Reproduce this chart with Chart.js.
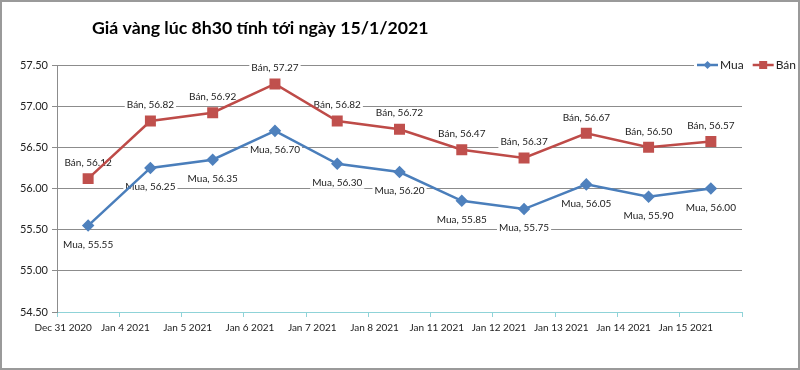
<!DOCTYPE html>
<html>
<head>
<meta charset="utf-8">
<script src="https://cdn.jsdelivr.net/npm/chart.js@4.4.1/dist/chart.umd.min.js"></script>
<style>
    html, body { margin: 0; padding: 0; background: #fff; }
    #wrap { width: 800px; height: 370px; }
</style>
</head>
<body>
<div id="wrap"><canvas id="goldChart" width="800" height="370"></canvas></div>
<script>
// Giá vàng (triệu đồng/lượng) lúc 8h30
const chartTitle = 'Giá vàng lúc 8h30 tính tới ngày 15/1/2021';
const days = ['Dec 31 2020', 'Jan 4 2021', 'Jan 5 2021', 'Jan 6 2021', 'Jan 7 2021', 'Jan 8 2021',
    'Jan 11 2021', 'Jan 12 2021', 'Jan 13 2021', 'Jan 14 2021', 'Jan 15 2021'];
const muaValues = [55.55, 56.25, 56.35, 56.70, 56.30, 56.20, 55.85, 55.75, 56.05, 55.90, 56.00];
const banValues = [56.12, 56.82, 56.92, 57.27, 56.82, 56.72, 56.47, 56.37, 56.67, 56.50, 56.57];
const yTicks = [54.5, 55.0, 55.5, 56.0, 56.5, 57.0, 57.5];

const FONT = 'Lato, "Open Sans", sans-serif';
const BLUE = '#4A7EBB';
const RED = '#BE4B48';

// Frame, title and custom legend
const decorPlugin = {
    id: 'decor',
    beforeDraw(chart) {
        const ctx = chart.ctx;
        ctx.save();
        ctx.fillStyle = '#fff';
        ctx.fillRect(0, 0, chart.width, chart.height);
        ctx.restore();
    },
    afterDraw(chart) {
        const ctx = chart.ctx;
        ctx.save();
        // title
        ctx.font = 'bold 17.7px ' + FONT;
        ctx.fillStyle = '#000';
        ctx.textAlign = 'left';
        ctx.textBaseline = 'middle';
        ctx.fillText(chartTitle, 92, 28);

        // legend
        ctx.fillStyle = '#fff';
        ctx.fillRect(694, 57, 100, 16);
        ctx.font = '12px ' + FONT;
        ctx.textBaseline = 'middle';
        let x = 697;
        const y = 65;
        chart.data.datasets.forEach(ds => {
            ctx.strokeStyle = ds.borderColor;
            ctx.lineWidth = 2.5;
            ctx.beginPath();
            ctx.moveTo(x, y);
            ctx.lineTo(x + 21, y);
            ctx.stroke();
            ctx.fillStyle = ds.pointBackgroundColor;
            if (ds.pointStyle === 'rectRot') {
                ctx.beginPath();
                ctx.moveTo(x + 10.5, y - 4);
                ctx.lineTo(x + 14.5, y);
                ctx.lineTo(x + 10.5, y + 4);
                ctx.lineTo(x + 6.5, y);
                ctx.closePath();
                ctx.fill();
            } else {
                ctx.fillRect(x + 6.5, y - 4, 8, 8);
            }
            ctx.fillStyle = '#222';
            ctx.fillText(ds.label, x + 23, y);
            x += 23 + ctx.measureText(ds.label).width + 9;
        });

        // outer frame
        ctx.strokeStyle = '#9a9a9a';
        ctx.lineWidth = 2;
        ctx.strokeRect(1, 1, chart.width - 2, chart.height - 2);
        ctx.restore();
    }
};

// "Series, value" labels; white box hides gridlines, lines are drawn on top
const pointLabels = {
    id: 'pointLabels',
    beforeDatasetsDraw(chart) {
        const ctx = chart.ctx;
        ctx.save();
        ctx.font = '10px ' + FONT;
        ctx.textAlign = 'center';
        ctx.textBaseline = 'middle';
        chart.data.datasets.forEach((ds, i) => {
            const meta = chart.getDatasetMeta(i);
            meta.data.forEach((pt, j) => {
                const text = ds.label + ', ' + ds.data[j].toFixed(2);
                const ty = pt.y + ds.labelShift;
                const w = ctx.measureText(text).width;
                ctx.fillStyle = '#fff';
                ctx.fillRect(pt.x - w / 2 - 2, ty - 6, w + 4, 12);
                ctx.fillStyle = '#222';
                ctx.fillText(text, pt.x, ty);
            });
        });
        ctx.restore();
    }
};

new Chart(document.getElementById('goldChart'), {
    type: 'line',
    data: {
        labels: days,
        datasets: [
            {
                label: 'Mua',
                data: muaValues,
                borderColor: BLUE,
                backgroundColor: BLUE,
                pointBackgroundColor: '#4F81BD',
                pointBorderColor: '#4F81BD',
                pointStyle: 'rectRot',
                pointRadius: 4.5,
                borderWidth: 2.5,
                tension: 0,
                labelShift: 19
            },
            {
                label: 'Bán',
                data: banValues,
                borderColor: RED,
                backgroundColor: RED,
                pointBackgroundColor: '#C0504D',
                pointBorderColor: '#C0504D',
                pointStyle: 'rect',
                pointRadius: 6,
                borderWidth: 2.5,
                tension: 0,
                labelShift: -16
            }
        ]
    },
    options: {
        responsive: false,
        animation: false,
        layout: { padding: { left: 0, top: 65, right: 58, bottom: 0 } },
        plugins: {
            legend: { display: false },
            tooltip: { enabled: false },
            title: { display: false }
        },
        scales: {
            x: {
                type: 'category',
                offset: true,
                afterFit: s => { s.height = 58; },
                grid: {
                    offset: true,
                    drawOnChartArea: false,
                    drawTicks: true,
                    tickLength: 5,
                    color: '#8FD3D8'
                },
                border: { color: '#8FD3D8', width: 1 },
                ticks: {
                    autoSkip: false,
                    maxRotation: 0,
                    labelOffset: -25,
                    padding: 5,
                    color: '#222',
                    font: { family: FONT, size: 10 }
                }
            },
            y: {
                min: yTicks[0],
                max: yTicks[yTicks.length - 1],
                afterFit: s => { s.width = 57; },
                afterBuildTicks: s => { s.ticks = yTicks.map(v => ({ value: v })); },
                grid: {
                    color: '#8c8c8c',
                    tickLength: 5
                },
                border: { color: '#8c8c8c' },
                ticks: {
                    padding: 4,
                    color: '#222',
                    font: { family: FONT, size: 11 },
                    callback: v => v.toFixed(2)
                }
            }
        }
    },
    plugins: [decorPlugin, pointLabels]
});
</script>
</body>
</html>
